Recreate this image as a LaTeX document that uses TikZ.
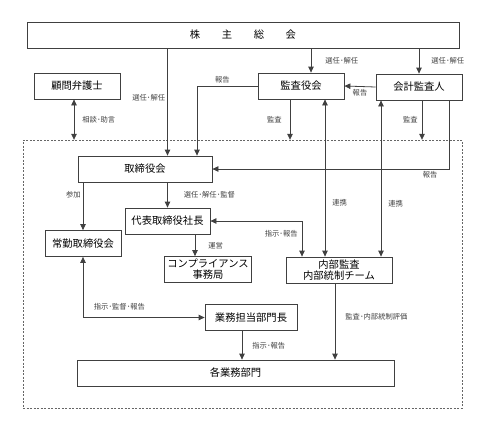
\documentclass[tikz,border=0pt]{standalone}
\usepackage{fontspec}
\setmainfont{Noto Sans CJK JP}
\usetikzlibrary{arrows.meta}

\begin{document}
\begin{tikzpicture}[x=1pt,y=-1pt,
    box/.style={draw=black!75, line width=0.8pt, minimum height=26pt, inner sep=2pt,
        font=\fontsize{10.3}{11}\selectfont, align=center},
    lbl/.style={font=\fontsize{7.3}{8}\selectfont, inner sep=2pt},
    arr/.style={-{Triangle[length=6pt,width=5.5pt]}, black!75, line width=0.8pt},
    dbl/.style={{Triangle[length=6pt,width=5.5pt]}-{Triangle[length=6pt,width=5.5pt]}, black!75, line width=0.8pt}]

    \useasboundingbox (0,0) rectangle (497,426);

    % Draw the dashed frame of the company
    \node[draw=black!60, dash pattern=on 2pt off 1.5pt, minimum width=439pt, minimum height=268pt, inner sep=0pt] (group) at (242.5,274) {};

    % Draw the boxes
    \node[box, minimum width=432pt] (soukai) at (243,35) {株\hspace{2.1em}主\hspace{2.1em}総\hspace{2.1em}会};
    \node[box, minimum width=86pt] (komon) at (77,86) {顧問弁護士};
    \node[box, minimum width=86pt] (kansayaku) at (301,86) {監査役会};
    \node[box, minimum width=86pt] (kaikei) at (419,87) {会計監査人};
    \node[box, minimum width=134pt] (torishimari) at (145,169) {取締役会};
    \node[box, minimum width=85pt] (daihyo) at (167.5,221) {代表取締役社長};
    \node[box, minimum width=76pt] (joukin) at (83,243.5) {常勤取締役会};
    \node[box, minimum width=87pt] (compliance) at (208,269.5) {コンプライアンス\\事務局};
    \node[box, minimum width=106pt] (naibu) at (339,270) {内部監査\\内部統制チーム};
    \node[box, minimum width=92pt] (gyoumutantou) at (251,317.5) {業務担当部門長};
    \node[box, minimum width=317pt] (kakugyoumu) at (235.5,373) {各業務部門};

    % Mark the x positions of the vertical lines
    \coordinate (rep1) at (197,0);
    \coordinate (sel2) at (311,0);
    \coordinate (aud1) at (290,0);
    \coordinate (coop1) at (325,0);
    \coordinate (coop2) at (381,0);
    \coordinate (aud2) at (422,0);
    \coordinate (rep2) at (449,0);
    \coordinate (adv) at (74,0);
    \coordinate (ops) at (195,0);
    \coordinate (inst1) at (302,0);
    \coordinate (eval) at (335,0);
    \coordinate (inst2) at (242,0);

    % Draw the lines from the shareholders meeting
    \draw[arr] (soukai.south -| daihyo) -- (torishimari.north -| daihyo) node[lbl, left, pos=0.46] {選任･解任};
    \draw[arr] (soukai.south -| sel2) -- (kansayaku.north -| sel2) node[lbl, right, midway, xshift=12] {選任･解任};
    \draw[arr] (soukai.south -| kaikei) -- (kaikei.north) node[lbl, right, midway, xshift=10] {選任･解任};

    % Draw the auditors' lines
    \draw[arr] (kansayaku.west) -| (torishimari.north -| rep1) node[lbl, above, pos=0.29] {報告};
    \draw[arr] (kaikei.west) -- (kansayaku.east) node[lbl, below, midway] {報告};
    \draw[arr] (kansayaku.south -| aud1) -- (group.north -| aud1) node[lbl, left, midway, xshift=-6] {監査};
    \draw[arr] (kaikei.south -| aud2) -- (group.north -| aud2) node[lbl, left, midway, xshift=-2] {監査};
    \draw[dbl] (kansayaku.south -| coop1) -- (naibu.north -| coop1) node[lbl, right, pos=0.66, xshift=5] {連携};
    \draw[dbl] (kaikei.south -| coop2) -- (naibu.north -| coop2) node[lbl, right, pos=0.66, xshift=5] {連携};
    \draw[arr] (kaikei.south -| rep2) |- (torishimari.east) node[lbl, below, pos=0.54] {報告};

    % Draw the lawyer's line
    \draw[dbl] (komon.south -| adv) -- (group.north -| adv) node[lbl, right, midway, xshift=6] {相談･助言};

    % Draw the lines inside the company
    \draw[arr] (torishimari.south -| daihyo) -- (daihyo.north) node[lbl, right, midway, xshift=14] {選任･解任･監督};
    \draw[arr] (torishimari.south -| joukin) -- (joukin.north) node[lbl, left, pos=0.25] {参加};
    \draw[arr] (daihyo.south -| ops) -- (compliance.north -| ops) node[lbl, right, midway, xshift=11] {運営};
    \draw[dbl] (daihyo.east) -| (naibu.north -| inst1) node[lbl, left, pos=0.68, xshift=-2] {指示･報告};
    \draw[arr] (naibu.south -| eval) -- (kakugyoumu.north -| eval) node[lbl, right, pos=0.44, xshift=8] {監査･内部統制評価};
    \draw[dbl] (joukin.south) |- (gyoumutantou.west) node[lbl, above, pos=0.65, yshift=5] {指示･監督･報告};
    \draw[arr] (gyoumutantou.south -| inst2) -- (kakugyoumu.north -| inst2) node[lbl, right, midway, xshift=8] {指示･報告};

\end{tikzpicture}
\end{document}
